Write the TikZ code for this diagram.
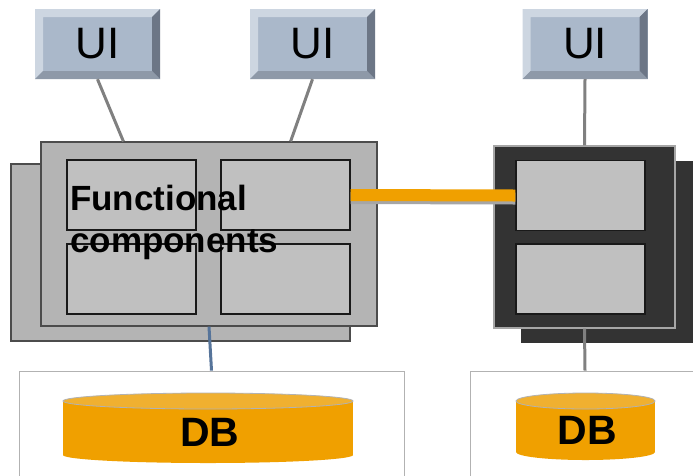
\documentclass[tikz,border=0pt]{standalone}
\usepackage{fontspec}
\setmainfont{Liberation Sans}
\definecolor{uiblue}{HTML}{AAB8CA}
\definecolor{uilight}{HTML}{CDD6E1}
\definecolor{uidark}{HTML}{6C7686}
\definecolor{uimid}{HTML}{8E99A8}
\definecolor{boxgray}{HTML}{B4B4B4}
\definecolor{innergray}{HTML}{C0C0C0}
\definecolor{darkbox}{HTML}{333333}
\definecolor{dborange}{HTML}{F0A000}
\definecolor{dbtop}{HTML}{F0B030}
\definecolor{linkgray}{HTML}{808080}
\definecolor{linkblue}{HTML}{56749A}

\begin{document}
\begin{tikzpicture}[x=1pt,y=-1pt,
  ui/.style={fill=uiblue, minimum width=125pt, minimum height=70pt, inner sep=0pt,
    font=\fontsize{44}{44}\selectfont,
    path picture={
      \coordinate (bvnw) at (path picture bounding box.north west);
      \coordinate (bvne) at (path picture bounding box.north east);
      \coordinate (bvsw) at (path picture bounding box.south west);
      \coordinate (bvse) at (path picture bounding box.south east);
      \fill[uilight] (bvsw) -- (bvnw) -- (bvne) -- ([xshift=-8pt,yshift=-8pt]bvne) -- ([xshift=8pt,yshift=-8pt]bvnw) -- ([xshift=8pt,yshift=8pt]bvsw) -- cycle;
      \fill[uidark] (bvne) -- (bvse) -- ([xshift=-8pt,yshift=8pt]bvse) -- ([xshift=-8pt,yshift=-8pt]bvne) -- cycle;
      \fill[uimid] (bvsw) -- (bvse) -- ([xshift=-8pt,yshift=8pt]bvse) -- ([xshift=8pt,yshift=8pt]bvsw) -- cycle;
    }},
  fcbox/.style={draw=black!70, line width=1.2pt, fill=boxgray, inner sep=0pt},
  inbox/.style={draw=black!90, line width=1.2pt, fill=innergray, minimum width=129pt, minimum height=70pt, inner sep=0pt},
  darkbox/.style={fill=darkbox, inner sep=0pt},
  dbarea/.style={draw=black!30, line width=0.8pt, fill=white, minimum width=385pt, minimum height=118pt, inner sep=0pt},
  link/.style={draw=linkgray, line width=3pt}]
\useasboundingbox[fill=white] (0,0) rectangle (693,475);

% user interfaces
\node[ui] (ui1) at (97.5,44) {UI};
\node[ui] (ui2) at (312.5,44) {UI};
\node[ui] (ui3) at (585,44) {UI};

% database areas
\node[dbarea] (dbsL) at (211.5,430) {};
\node[dbarea, minimum width=230pt] (dbsR) at (585,430) {};

% functional components, left
\node[fcbox, minimum width=339pt, minimum height=177pt] (fcb) at (180.5,252.5) {};
\node[fcbox, minimum width=336pt, minimum height=184pt] (fc) at (209,234) {};
\node[inbox] (fcTL) at (131.5,195) {};
\node[inbox] (fcTR) at (285.5,195) {};
\node[inbox] (fcBL) at (131.5,279) {};
\node[inbox] (fcBR) at (285.5,279) {};
\node[anchor=north west, inner sep=0pt, align=left, font=\fontsize{35}{42}\selectfont\bfseries] (fctext) at (70,185) {Functional\\components};

% right component
\node[darkbox, minimum width=198pt, minimum height=182pt] (rb) at (620,252) {};
\node[darkbox, draw=black!35, line width=1.2pt, minimum width=181pt, minimum height=182pt] (rf) at (584.5,237) {};
\node[inbox] (rTop) at (580.5,195.5) {};
\node[inbox] (rBot) at (580.5,279) {};

% connectors
\coordinate (fcin1) at ([xshift=83pt]fc.north west);
\coordinate (fcin2) at ([xshift=-87pt]fc.north east);
\draw[link] (ui1.south) -- (fcin1);
\draw[link] (ui2.south) -- (fcin2);
\draw[link] (ui3.south) -- (rf.north);
\draw[link] (rf.south) -- (dbsR.north);
\draw[draw=linkblue, line width=3pt] (fc.south) -- (dbsL.north);
\draw[draw=black!35, line width=12pt] ([yshift=-3pt]fcTR.east) -- ([yshift=-3pt]rTop.west);
\draw[draw=dborange, line width=12pt] (fcTR.east) -- (rTop.west);

% databases
\fill[dborange] (63,401) rectangle (353,455);
\fill[dborange] (208,455) ellipse[x radius=145, y radius=8];
\filldraw[fill=dbtop, draw=black!30, line width=0.8pt] (208,401) ellipse[x radius=145, y radius=8];
\node[font=\fontsize{41}{41}\selectfont\bfseries] (dbL) at (210,432) {DB};
\fill[dborange] (516,401) rectangle (655,452);
\fill[dborange] (585.5,452) ellipse[x radius=69.5, y radius=8];
\filldraw[fill=dbtop, draw=black!30, line width=0.8pt] (585.5,401) ellipse[x radius=69.5, y radius=8];
\node[font=\fontsize{41}{41}\selectfont\bfseries] (dbR) at (587,430) {DB};
\end{tikzpicture}
\end{document}
